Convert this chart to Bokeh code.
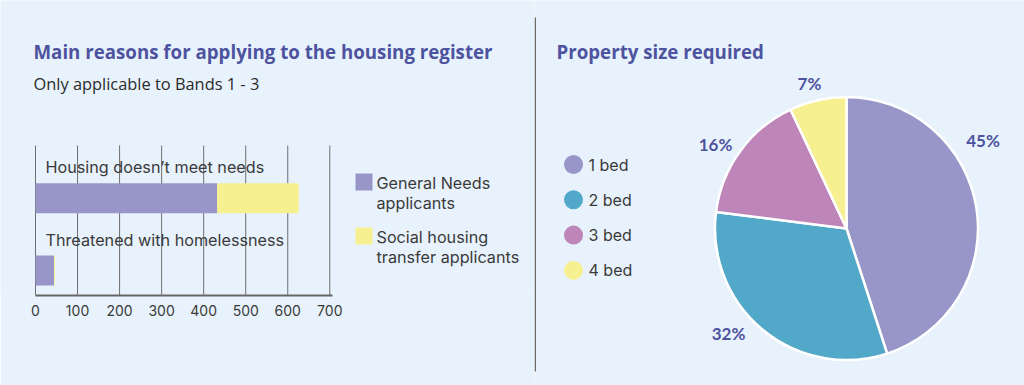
import math
from bokeh.plotting import figure
from bokeh.layouts import row
from bokeh.models import Range1d, FixedTicker, Label, BoxAnnotation
from bokeh.core.properties import value
from bokeh.embed import file_html
from bokeh.resources import INLINE

# ---------------- data ----------------
reasons = ["Housing doesn\u2019t meet needs", "Threatened with homelessness"]
general_needs = [432, 44]
social_transfer = [194, 2]
series_labels = ["General Needs\napplicants", "Social housing\ntransfer applicants"]
x_ticks = [0, 100, 200, 300, 400, 500, 600, 700]

sizes = ["1 bed", "2 bed", "3 bed", "4 bed"]
shares = [45, 32, 16, 7]

# ---------------- style ----------------
BG = "#e8f2fc"
TITLE_C = "#4e53a0"
TEXT_C = "#3a3a3a"
PURPLE = "#9896c8"
YELLOW = "#f6f090"
TEAL = "#52a8c8"
MAUVE = "#be86b8"
series_colors = [PURPLE, YELLOW]
pie_colors = [PURPLE, TEAL, MAUVE, YELLOW]
BODY_FONT = "Inter"
TITLE_FONT = "Open Sans"
TITLE_SIZE = "18.7px"


def no_frame_align(p):
    try:
        p.frame_align = False
    except Exception:
        pass


# ---------------- left: bar chart ----------------
LW, LH = 534, 385
AXIS_H = 90                       # room below the frame for the x axis
PX = 294.3 / 700                  # pixels per value unit
X0 = 35                           # pixel position of value 0 inside the figure
PY = 72.3                         # pixels per category step
Y0 = 270                          # pixel position (from top) of the lower bar centre
frame_h = LH - AXIS_H
left = figure(width=LW, height=LH, x_range=Range1d(-X0 / PX, (LW - X0) / PX),
              y_range=Range1d(-(frame_h - Y0) / PY, Y0 / PY),
              output_backend="svg", toolbar_location=None, y_axis_location=None, title=None,
              min_border_left=0, min_border_right=0, min_border_top=0, min_border_bottom=AXIS_H)
no_frame_align(left)
left.background_fill_color = BG
left.border_fill_color = BG
left.outline_line_color = None
left.xgrid.visible = False
left.ygrid.visible = False

ys = [len(reasons) - 1 - i for i in range(len(reasons))]
grid_top = 1.729
left.segment(x0=x_ticks, y0=[-(frame_h - Y0) / PY] * len(x_ticks), x1=x_ticks,
             y1=[grid_top] * len(x_ticks), line_color="#6e6e6e", line_width=1)

stack_end = [g + s for g, s in zip(general_needs, social_transfer)]
left.hbar(y=ys, left=0, right=general_needs, height=0.415, fill_color=PURPLE, line_color=None)
left.hbar(y=ys, left=general_needs, right=stack_end, height=0.415, fill_color=YELLOW, line_color=None)
left.text(x=0, y=ys, text=reasons, x_offset=10, y_offset=-31, text_baseline="middle",
          text_font=value(BODY_FONT), text_font_size="16.2px", text_color=TEXT_C)

ax = left.xaxis[0]
ax.ticker = FixedTicker(ticks=x_ticks)
ax.bounds = (0, 706)
ax.major_tick_line_color = None
ax.minor_tick_line_color = None
ax.major_tick_out = 0
ax.major_tick_in = 0
ax.axis_line_color = "#666666"
ax.axis_line_width = 2
ax.major_label_standoff = 9
ax.major_label_text_font = BODY_FONT
ax.major_label_text_font_size = "14px"
ax.major_label_text_color = TEXT_C

# legend of the bar chart (square + wrapped label, top aligned)
LEG_X, LEG_TOP, LEG_STEP, LEG_SQ, LINE_H = 355, 173, 54, 17, 19.5
for i, (lab, col) in enumerate(zip(series_labels, series_colors)):
    top_px = LEG_TOP + i * LEG_STEP
    left.add_layout(BoxAnnotation(left=LEG_X, right=LEG_X + LEG_SQ,
                                  top=frame_h - top_px, bottom=frame_h - top_px - LEG_SQ,
                                  left_units="screen", right_units="screen",
                                  top_units="screen", bottom_units="screen",
                                  fill_color=col, fill_alpha=1, line_color=None))
    for j, line in enumerate(lab.split("\n")):
        left.add_layout(Label(x=LEG_X + LEG_SQ + 4, y=frame_h - (top_px + 9.5 + j * LINE_H),
                              x_units="screen", y_units="screen", text=line,
                              text_font=BODY_FONT, text_font_size="16.2px",
                              text_color=TEXT_C, text_baseline="middle"))

left.add_layout(Label(x=33, y=frame_h - 50.5, x_units="screen", y_units="screen",
                      text="Main reasons for applying to the housing register",
                      text_font=TITLE_FONT, text_font_style="bold", text_font_size=TITLE_SIZE,
                      text_color=TITLE_C, text_baseline="middle"))
left.add_layout(Label(x=33, y=frame_h - 83, x_units="screen", y_units="screen",
                      text="Only applicable to Bands 1 - 3",
                      text_font=TITLE_FONT, text_font_size="16.4px",
                      text_color="#2a2a2a", text_baseline="middle"))

# ---------------- right: pie chart ----------------
S = 131.5          # pixels per unit radius
CX, CY = 312, 228  # pie centre in figure pixels (from left, from top)
W, H = 490, 385
right = figure(width=W, height=H, x_range=Range1d(-CX / S, (W - CX) / S),
               y_range=Range1d(-(H - CY) / S, CY / S), output_backend="svg",
               toolbar_location=None, x_axis_location=None, y_axis_location=None, title=None,
               min_border=0, min_border_left=0, min_border_right=0, min_border_top=0,
               min_border_bottom=0)
no_frame_align(right)
right.background_fill_color = BG
right.border_fill_color = BG
right.outline_line_color = None
right.xgrid.visible = False
right.ygrid.visible = False

total = sum(shares)
cum = [sum(shares[:i]) for i in range(len(shares) + 1)]
starts = [math.pi / 2 - 2 * math.pi * cum[i] / total for i in range(len(shares))]
ends = [math.pi / 2 - 2 * math.pi * cum[i + 1] / total for i in range(len(shares))]
right.wedge(x=0, y=0, radius=1, start_angle=starts, end_angle=ends, direction="clock",
            fill_color=pie_colors, line_color="white", line_width=2.5)

nudge_deg = [23.8, -8.8, 3.3, 1.7]
label_r = [1.235, 1.2, 1.183, 1.141]
mids = [(a + b) / 2 + math.radians(n) for a, b, n in zip(starts, ends, nudge_deg)]
right.text(x=[r * math.cos(m) for r, m in zip(label_r, mids)],
           y=[r * math.sin(m) for r, m in zip(label_r, mids)],
           text=[f"{v}%" for v in shares], text_align="center", text_baseline="middle",
           text_font=value("Lato"), text_font_style="bold", text_font_size="17px",
           text_color=TITLE_C)

# legend of the pie
lg_x = -273 / S
lg_tx = -258 / S
lg_y0 = 64 / S
lg_step = 35.3 / S
lg_y = [lg_y0 - i * lg_step for i in range(len(sizes))]
right.scatter(x=[lg_x] * len(sizes), y=lg_y, size=19, fill_color=pie_colors, line_color=None)
right.text(x=[lg_tx] * len(sizes), y=lg_y, text=sizes, text_baseline="middle",
           text_font=value(BODY_FONT), text_font_size="16px", text_color=TEXT_C)

right.add_layout(BoxAnnotation(left=0, right=1.5, bottom=H - 371, top=H - 17, left_units="screen",
                               right_units="screen", bottom_units="screen", top_units="screen",
                               fill_color="#6a6a6a", fill_alpha=1, line_color=None))
right.add_layout(Label(x=22, y=H - 50.5, x_units="screen", y_units="screen",
                       text="Property size required",
                       text_font=TITLE_FONT, text_font_style="bold", text_font_size=TITLE_SIZE,
                       text_color=TITLE_C, text_baseline="middle"))

layout = row(left, right, spacing=0)
open("out.html", "w").write(file_html(layout, INLINE))
